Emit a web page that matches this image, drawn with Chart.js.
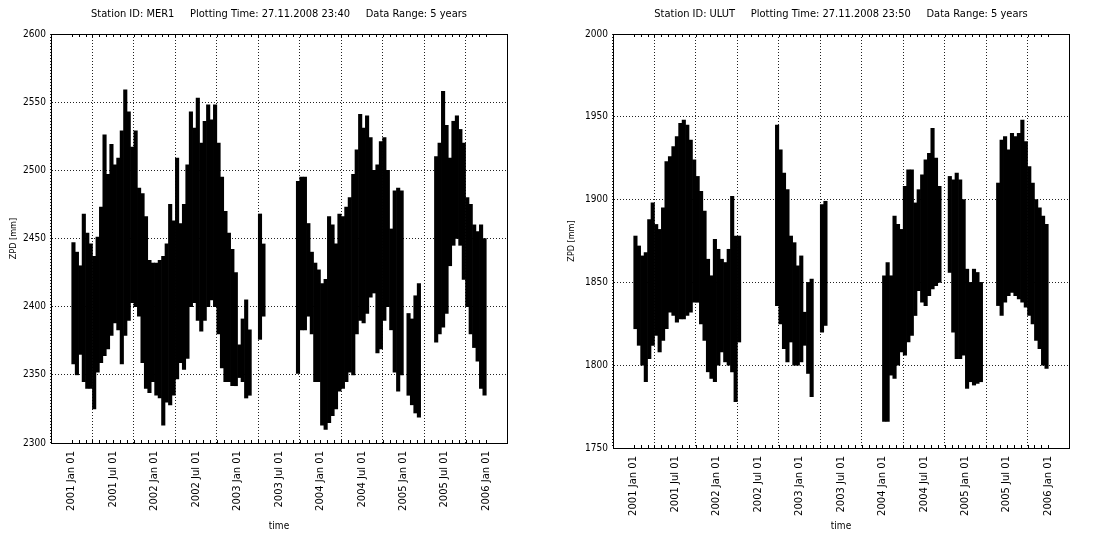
<!DOCTYPE html>
<html>
<head>
<meta charset="utf-8">
<script src="https://cdn.jsdelivr.net/npm/chart.js@4.4.0/dist/chart.umd.min.js"></script>
<style>
  html, body { margin: 0; background: #fff; }
  .panel { position: absolute; top: 0; width: 558px; height: 536px; }
</style>
</head>
<body>
<div class="panel" style="left:0"><canvas id="mer1" width="558" height="536"></canvas></div>
<div class="panel" style="left:558px"><canvas id="ulut" width="558" height="536"></canvas></div>
<script>
// half-month bins, 2001-01-01 .. 2006-01-01 (decimal years)
const BINS = Array.from({ length: 120 }, (_, i) => 2001 + (i + 0.5) / 24);
const MONTHS = Array.from({ length: 61 }, (_, i) => 2001 + i / 12);
const X_TICKS = [2001, 2001.5, 2002, 2002.5, 2003, 2003.5, 2004, 2004.5, 2005, 2005.5, 2006];

// ZPD range per bin [mm] (null = no data)
const MER1_HI = [
  2447, 2440, 2430, 2468, 2454, 2446, 2437, 2451, 2473, 2526, 2497, 2519,
  2504, 2509, 2529, 2559, 2543, 2517, 2529, 2487, 2483, 2466, 2434, 2432,
  2432, 2434, 2437, 2446, 2475, 2463, 2509, 2461, 2475, 2504, 2543, 2531,
  2553, 2520, 2536, 2548, 2537, 2548, 2520, 2495, 2470, 2454, 2442, 2425,
  2372, 2391, 2405, 2383, null, null, 2468, 2446, null, null, null, null,
  null, null, null, null, null, 2492, 2495, 2495, 2461, 2440, 2432, 2427,
  2417, 2420, 2466, 2460, 2446, 2468, 2466, 2473, 2480, 2497, 2515, 2541,
  2531, 2540, 2524, 2500, 2504, 2521, 2524, 2500, 2457, 2485, 2487, 2485,
  null, 2395, 2391, 2408, 2417, null, null, null, null, 2510, 2520, 2558,
  2533, 2509, 2536, 2540, 2530, 2520, 2480, 2475, 2460, 2455, 2460, 2450
];
const MER1_LO = [
  2358, 2350, 2365, 2345, 2340, 2340, 2325, 2352, 2359, 2364, 2369, 2379,
  2388, 2383, 2358, 2379, 2390, 2403, 2400, 2393, 2359, 2340, 2337, 2345,
  2335, 2333, 2313, 2330, 2328, 2335, 2347, 2359, 2354, 2362, 2400, 2403,
  2390, 2382, 2390, 2400, 2405, 2400, 2380, 2355, 2345, 2345, 2342, 2342,
  2348, 2345, 2333, 2335, null, null, 2376, 2393, null, null, null, null,
  null, null, null, null, null, 2351, 2383, 2383, 2393, 2380, 2345, 2345,
  2313, 2310, 2315, 2320, 2325, 2338, 2340, 2345, 2352, 2350, 2380, 2390,
  2388, 2395, 2407, 2410, 2366, 2369, 2390, 2400, 2383, 2352, 2338, 2350,
  null, 2335, 2328, 2322, 2319, null, null, null, null, 2374, 2380, 2385,
  2395, 2430, 2445, 2450, 2445, 2420, 2400, 2380, 2370, 2360, 2340, 2335
];
const ULUT_HI = [
  1878, 1872, 1866, 1868, 1888, 1898, 1885, 1882, 1895, 1923, 1926, 1932,
  1938, 1946, 1948, 1945, 1936, 1924, 1914, 1905, 1893, 1864, 1854, 1876,
  1870, 1864, 1862, 1870, 1902, 1878, 1878, null, null, null, null, null,
  null, null, null, null, null, 1945, 1930, 1916, 1906, 1878, 1874, 1860,
  1866, 1832, 1850, 1852, null, null, 1897, 1899, null, null, null, null,
  null, null, null, null, null, null, null, null, null, null, null, null,
  1854, 1862, 1854, 1890, 1885, 1882, 1908, 1918, 1918, 1898, 1906, 1915,
  1924, 1928, 1943, 1925, 1908, null, null, 1914, 1912, 1916, 1912, 1900,
  1858, 1850, 1858, 1856, 1850, null, null, null, null, 1910, 1936, 1938,
  1930, 1940, 1938, 1940, 1948, 1935, 1920, 1910, 1900, 1895, 1890, 1885
];
const ULUT_LO = [
  1822, 1812, 1800, 1790, 1804, 1812, 1818, 1808, 1815, 1822, 1832, 1830,
  1826, 1828, 1828, 1830, 1832, 1838, 1838, 1825, 1815, 1796, 1792, 1790,
  1800, 1808, 1802, 1800, 1796, 1778, 1814, null, null, null, null, null,
  null, null, null, null, null, 1836, 1825, 1810, 1802, 1814, 1800, 1800,
  1802, 1812, 1795, 1781, null, null, 1820, 1824, null, null, null, null,
  null, null, null, null, null, null, null, null, null, null, null, null,
  1766, 1766, 1794, 1792, 1800, 1808, 1806, 1814, 1818, 1830, 1845, 1838,
  1836, 1842, 1846, 1848, 1850, null, null, 1856, 1820, 1804, 1804, 1806,
  1786, 1790, 1788, 1789, 1790, null, null, null, null, 1836, 1830, 1838,
  1842, 1844, 1842, 1840, 1838, 1835, 1830, 1825, 1815, 1810, 1800, 1798
];

// frame, inward monthly ticks and the header line centred over the plot
const frame = {
  id: 'frame',
  afterDatasetsDraw(chart, args, opts) {
    const { ctx, chartArea: a, scales: { x } } = chart;
    ctx.save();
    ctx.strokeStyle = '#000';
    ctx.lineWidth = 1;
    ctx.strokeRect(Math.round(a.left) + 0.5, Math.round(a.top) + 0.5,
      Math.round(a.right - a.left), Math.round(a.bottom - a.top));
    ctx.beginPath();
    MONTHS.forEach(m => {
      const px = Math.round(x.getPixelForValue(m)) + 0.5;
      ctx.moveTo(px, a.top); ctx.lineTo(px, a.top + 3);
      ctx.moveTo(px, a.bottom); ctx.lineTo(px, a.bottom - 3);
    });
    ctx.stroke();
    ctx.fillStyle = '#000';
    ctx.font = '11px "DejaVu Sans Condensed", "DejaVu Sans Mono"';
    ctx.textAlign = 'center';
    ctx.textBaseline = 'middle';
    ctx.fillText(opts.text, (a.left + a.right) / 2, 14);
    ctx.restore();
  }
};

function makeChart(id, title, lo, hi, yMin, yMax, yWidth, xHeight, padRight) {
  new Chart(document.getElementById(id), {
    type: 'bar',
    data: {
      datasets: [{
        data: BINS.map((x, i) => ({ x, y: lo[i] == null ? null : [lo[i], hi[i]] })),
        backgroundColor: '#000',
        borderColor: '#000',
        borderWidth: 0,
        barPercentage: 1,
        categoryPercentage: 1
      }]
    },
    plugins: [frame],
    options: {
      responsive: false,
      animation: false,
      layout: { padding: { left: 0, right: padRight, top: 34, bottom: 0 } },
      plugins: {
        legend: { display: false },
        tooltip: { enabled: false },
        frame: { text: title }
      },
      scales: {
        x: {
          type: 'linear',
          min: 2001, max: 2006,
          afterFit: s => { s.height = xHeight; },
          afterBuildTicks: s => { s.ticks = X_TICKS.map(v => ({ value: v })); },
          grid: { color: '#222', drawTicks: false },
          border: { display: true, color: '#000', dash: [1, 2] },
          ticks: {
            autoSkip: false, minRotation: 90, maxRotation: 90, padding: 8,
            color: '#000',
            font: { family: '"DejaVu Sans"', size: 10 },
            callback: v => Math.floor(v) + (v % 1 ? ' Jul' : ' Jan') + ' 01'
          },
          title: {
            display: true, text: 'time', color: '#000',
            font: { family: '"DejaVu Sans Condensed", "DejaVu Sans"', size: 10 },
            padding: { top: 0, bottom: 4 }
          }
        },
        y: {
          min: yMin, max: yMax,
          afterFit: s => { s.width = yWidth; },
          grid: { color: '#222', drawTicks: false },
          border: { display: true, color: '#000', dash: [1, 2] },
          ticks: {
            stepSize: 50, padding: 5, color: '#000',
            font: { family: '"DejaVu Sans Condensed", "DejaVu Sans"', size: 10 },
            callback: v => String(v)
          },
          title: {
            display: true, text: 'ZPD [mm]', color: '#000',
            font: { family: '"DejaVu Sans Condensed", "DejaVu Sans"', size: 9 },
            padding: { top: 8, bottom: 0 }
          }
        }
      }
    }
  });
}

makeChart('mer1', 'Station ID: MER1     Plotting Time: 27.11.2008 23:40     Data Range: 5 years',
  MER1_LO, MER1_HI, 2300, 2600, 51, 93, 51);
makeChart('ulut', 'Station ID: ULUT     Plotting Time: 27.11.2008 23:50     Data Range: 5 years',
  ULUT_LO, ULUT_HI, 1750, 2000, 55, 88, 47);
</script>
</body>
</html>
